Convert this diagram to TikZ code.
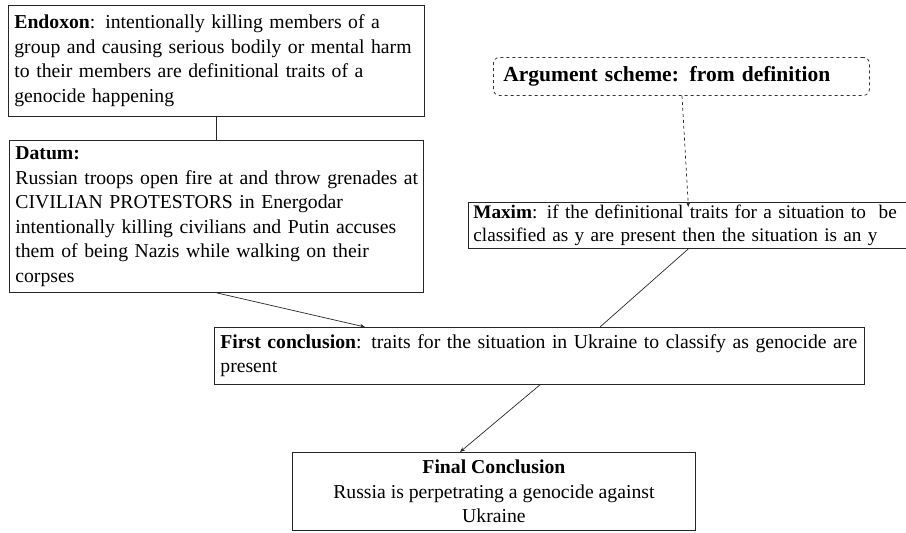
\documentclass[tikz,border=0pt]{standalone}
\usepackage{fontspec}
\setmainfont{Liberation Serif}
\usetikzlibrary{arrows.meta}
\newcommand\keepline[1]{\mbox{#1}}
\begin{document}
\begin{tikzpicture}[x=1pt,y=-1pt,
  box/.style={draw=black!85, line width=0.8pt, anchor=north west, inner xsep=6pt, inner ysep=2pt,
    align=left, font=\fontsize{19.7}{24.5}\selectfont},
  conn/.style={draw=black!85, line width=0.7pt},
  arr/.style={conn, -{Stealth[length=5pt,width=4pt]}}]
\useasboundingbox (0,0) rectangle (906,533);
\node[box, minimum width=416pt, minimum height=111pt, text width=404pt] (endoxon) at (8,5)
  {\keepline{\textbf{Endoxon}: intentionally killing members of a}\\\keepline{group and causing serious bodily or mental harm}\\\keepline{to their members are definitional traits of a}\\\keepline{genocide happening}};
\node[box, minimum width=414pt, minimum height=152pt, text width=402pt] (datum) at (9,140)
  {\keepline{\textbf{Datum:}}\\\keepline{Russian troops open fire at and throw grenades at}\\\keepline{CIVILIAN PROTESTORS in Energodar}\\\keepline{intentionally killing civilians and Putin accuses}\\\keepline{them of being Nazis while walking on their}\\\keepline{corpses}};
\node[box, draw=black!80, dashed, rounded corners=6pt, minimum width=376pt, minimum height=38pt, text width=356pt, inner xsep=10pt, font=\fontsize{21.5}{26}\selectfont\bfseries] (scheme) at (493,57)
  {\keepline{Argument scheme: from definition}};
\node[box, minimum width=440pt, minimum height=46pt, text width=430pt, inner xsep=5pt, inner ysep=0pt, font=\fontsize{19.2}{23}\selectfont] (maxim) at (468,202)
  {\keepline{\textbf{Maxim}: if the definitional traits for a situation to\ \ be}\\\keepline{classified as y are present then the situation is an y}};
\node[box, minimum width=650pt, minimum height=57pt, text width=638pt] (first) at (214,327)
  {\keepline{\textbf{First conclusion}: traits for the situation in Ukraine to classify as genocide are}\\\keepline{present}};
\node[box, minimum width=403pt, minimum height=78pt, align=center] (final) at (292,452)
  {\textbf{Final Conclusion}\\Russia is perpetrating a genocide against\\Ukraine};
\draw[conn] (endoxon.south) -- (datum.north);
\draw[arr] (datum.south) -- ([xshift=151pt]first.north west);
\draw[arr, dashed] ([xshift=189pt]scheme.south west) -- ([yshift=-5pt]maxim.north);
\draw[conn] (maxim.south) -- ([xshift=386pt]first.north west);
\draw[arr] ([xshift=326pt]first.south west) -- ([xshift=168pt]final.north west);
\end{tikzpicture}
\end{document}
